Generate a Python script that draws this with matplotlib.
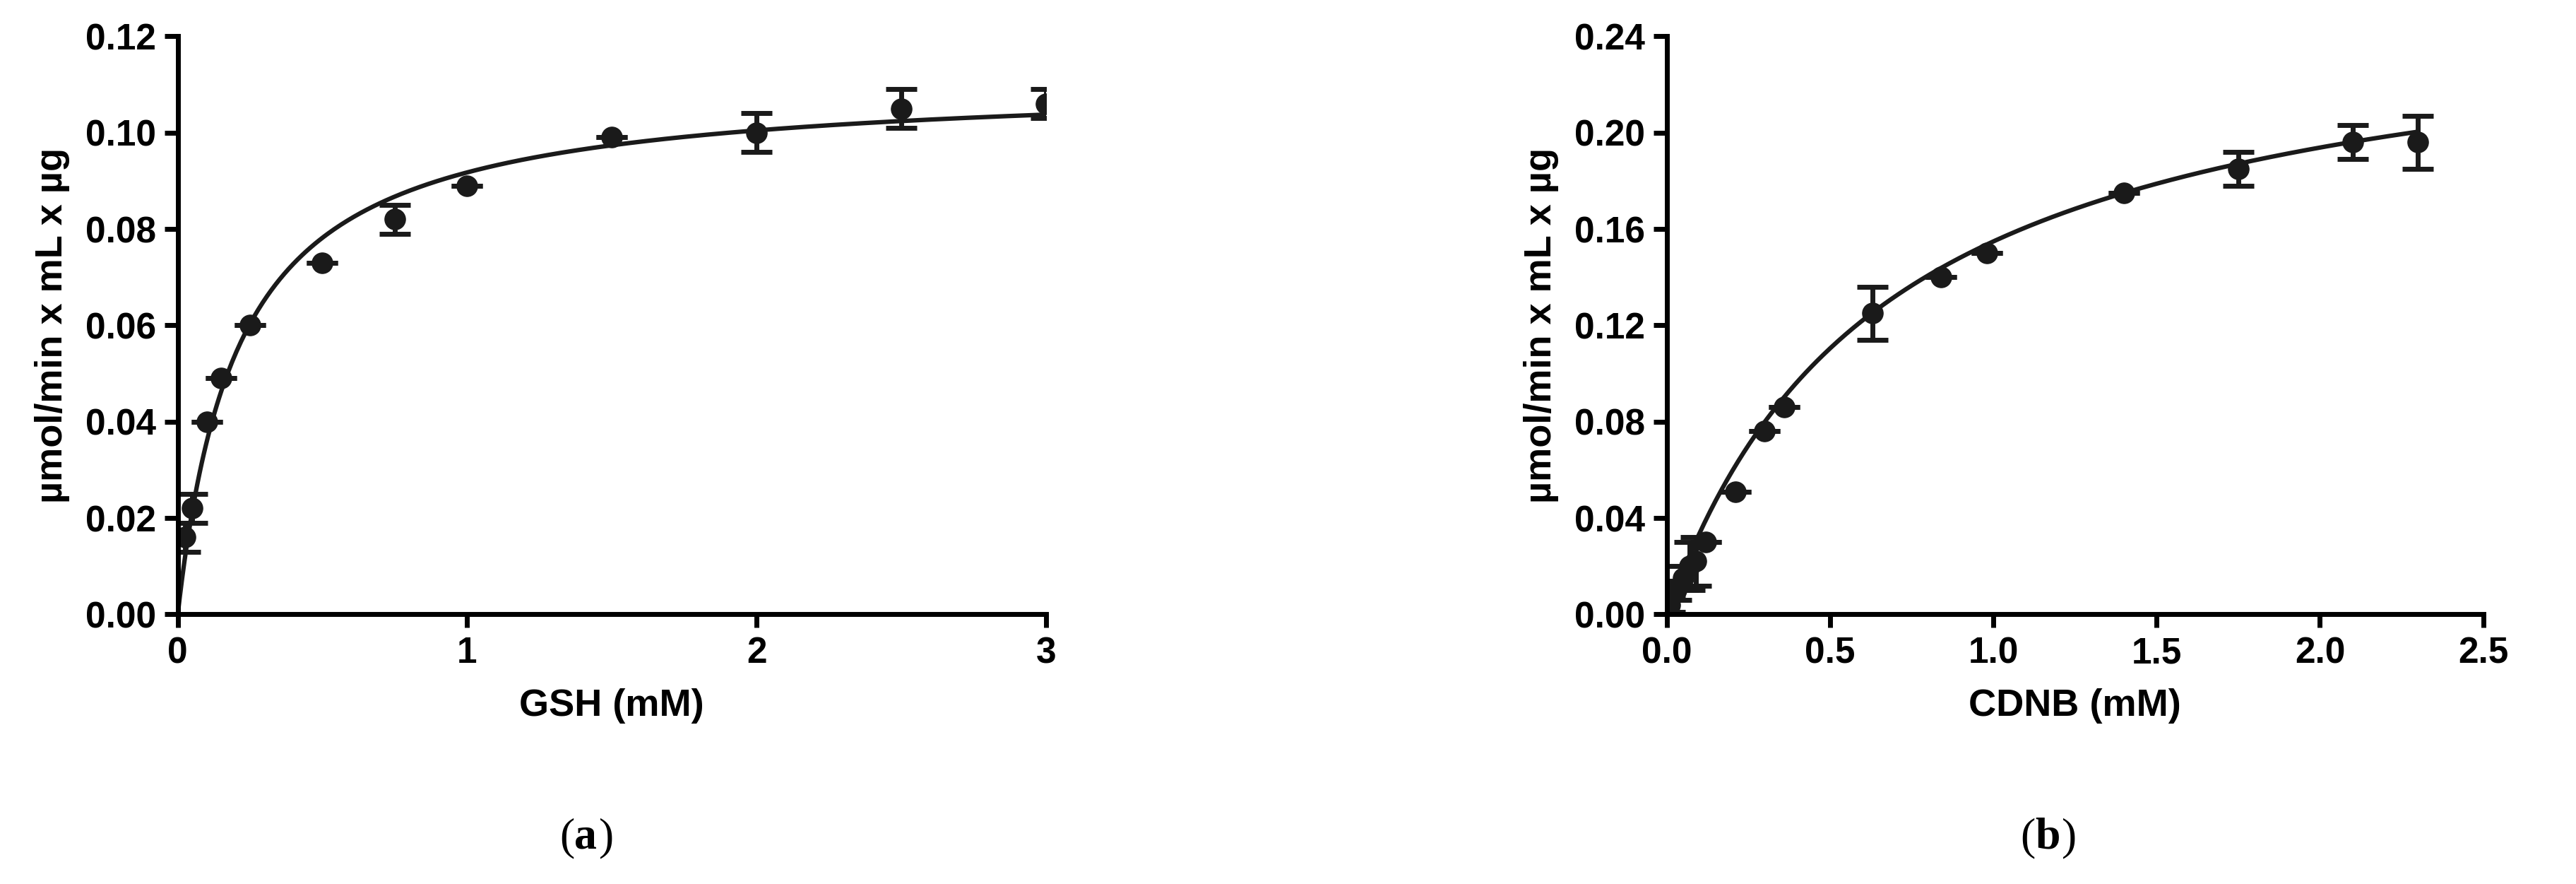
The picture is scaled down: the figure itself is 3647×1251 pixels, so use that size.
import matplotlib.pyplot as plt
import numpy as np

plt.rcParams['font.family'] = ['Liberation Sans', 'DejaVu Sans']

# Panel (a): GSH
gsh_x = [0.025, 0.05, 0.1, 0.15, 0.25, 0.5, 0.75, 1.0, 1.5, 2.0, 2.5, 3.0]
gsh_y = [0.016, 0.022, 0.040, 0.049, 0.060, 0.073, 0.082, 0.089, 0.099, 0.100, 0.105, 0.106]
gsh_err = [0.003, 0.003, 0.0, 0.0, 0.0, 0.0, 0.003, 0.0, 0.0, 0.004, 0.004, 0.003]
gsh_vmax, gsh_km = 0.111, 0.21

# Panel (b): CDNB
cdnb_x = [0.01, 0.03, 0.05, 0.07, 0.09, 0.12, 0.21, 0.30, 0.36, 0.63, 0.84, 0.98, 1.40, 1.75, 2.10, 2.30]
cdnb_y = [0.004, 0.010, 0.015, 0.020, 0.022, 0.030, 0.051, 0.076, 0.086, 0.125, 0.140, 0.150, 0.175, 0.185, 0.196, 0.196]
cdnb_err = [0.003, 0.004, 0.005, 0.010, 0.010, 0.0, 0.0, 0.0, 0.0, 0.011, 0.0, 0.0, 0.0, 0.007, 0.007, 0.011]
cdnb_vmax, cdnb_km = 0.259, 0.673

fig = plt.figure(figsize=(36.47, 12.51), dpi=100)
ax1 = fig.add_axes([0.069, 0.305, 0.337, 0.654])
ax2 = fig.add_axes([0.647, 0.305, 0.317, 0.654])

def panel(ax, x, y, err, vmax, km, xmax, ymax, xticks, yticks, xlabel, xfmt):
    xs = np.linspace(0, max(x), 400)
    ax.plot(xs, vmax * xs / (km + xs), color='#1a1a1a', lw=4.5)
    ax.errorbar(x, y, yerr=err, fmt='o', color='#1a1a1a', ms=21, elinewidth=5,
                capsize=16, capthick=5)
    ax.set_xlim(0, xmax)
    ax.set_ylim(0, ymax)
    ax.set_xticks(xticks)
    ax.set_yticks(yticks)
    ax.set_xticklabels([xfmt.format(t) for t in xticks])
    ax.set_yticklabels(['{:.2f}'.format(t) for t in yticks])
    for s in ['top', 'right']:
        ax.spines[s].set_visible(False)
    for s in ['left', 'bottom']:
        ax.spines[s].set_linewidth(5)
    ax.tick_params(width=5, length=14, labelsize=37, pad=8)
    for lab in ax.get_xticklabels() + ax.get_yticklabels():
        lab.set_fontweight('bold')
    ax.set_xlabel(xlabel, fontsize=39, fontweight='bold', labelpad=18)
    ax.set_ylabel('µmol/min x mL x µg', fontsize=39, fontweight='bold', labelpad=16)

panel(ax1, gsh_x, gsh_y, gsh_err, gsh_vmax, gsh_km, 3, 0.12,
      [0, 1, 2, 3], np.arange(0, 0.121, 0.02), 'GSH (mM)', '{:g}')
panel(ax2, cdnb_x, cdnb_y, cdnb_err, cdnb_vmax, cdnb_km, 2.5, 0.24,
      np.arange(0, 2.51, 0.5), np.arange(0, 0.241, 0.04), 'CDNB (mM)', '{:.1f}')

fig.text(0.223, 0.04, '(', fontsize=46, family='Liberation Serif', ha='right')
fig.text(0.223, 0.04, 'a', fontsize=46, family='Liberation Serif', fontweight='bold', ha='left')
fig.text(0.2325, 0.04, ')', fontsize=46, family='Liberation Serif')
fig.text(0.790, 0.04, '(', fontsize=46, family='Liberation Serif', ha='right')
fig.text(0.790, 0.04, 'b', fontsize=46, family='Liberation Serif', fontweight='bold', ha='left')
fig.text(0.8005, 0.04, ')', fontsize=46, family='Liberation Serif')

fig.savefig('out.png', dpi=100)
